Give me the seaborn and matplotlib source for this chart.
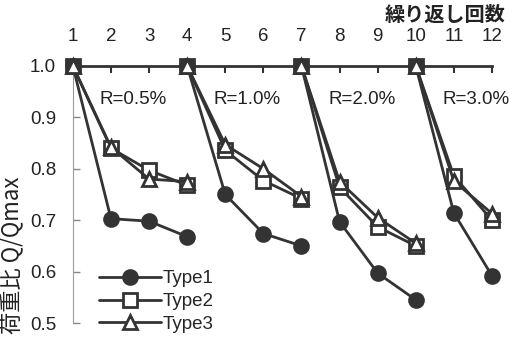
import matplotlib
matplotlib.use("Agg")
import matplotlib.pyplot as plt
from matplotlib.lines import Line2D
import seaborn as sns
import pandas as pd

# Cycle numbers for each drift-amplitude group (groups share their boundary cycle)
group_labels = ["R=0.5%", "R=1.0%", "R=2.0%", "R=3.0%"]
group_cycles = [[1, 2, 3, 4], [4, 5, 6, 7], [7, 8, 9, 10], [10, 11, 12]]

# Q/Qmax per group for each specimen type
type1_vals = [[1.0, 0.703, 0.698, 0.668],
              [1.0, 0.750, 0.674, 0.650],
              [1.0, 0.697, 0.597, 0.545],
              [1.0, 0.714, 0.592]]
type2_vals = [[1.0, 0.840, 0.797, 0.768],
              [1.0, 0.836, 0.777, 0.742],
              [1.0, 0.764, 0.687, 0.650],
              [1.0, 0.786, 0.700]]
type3_vals = [[1.0, 0.842, 0.780, 0.775],
              [1.0, 0.847, 0.800, 0.746],
              [1.0, 0.775, 0.705, 0.655],
              [1.0, 0.776, 0.713]]

series_names = ["Type1", "Type2", "Type3"]
cycle_ticks = list(range(1, 13))
y_ticks = [0.5, 0.6, 0.7, 0.8, 0.9, 1.0]

rows = []
for name, vals in zip(series_names, [type1_vals, type2_vals, type3_vals]):
    for g, (cyc, v) in enumerate(zip(group_cycles, vals)):
        for c, q in zip(cyc, v):
            rows.append({"type": name, "group": g, "cycle": c, "ratio": q})
df = pd.DataFrame(rows)

sns.set_theme(style="white")
plt.rcParams["font.family"] = ["Liberation Sans", "Noto Sans CJK JP", "DejaVu Sans"]

ink = "#333333"
styles = {
    "Type1": dict(marker="o", markerfacecolor=ink, markersize=10, zorder=4),
    "Type2": dict(marker="s", markerfacecolor="white", markersize=9.5, zorder=3),
    "Type3": dict(marker="^", markerfacecolor="white", markersize=10.5, zorder=5),
}

fig = plt.figure(figsize=(5.13, 3.40), dpi=100)
ax = fig.add_axes([0.142, 0.05, 0.817, 0.756])

for name in ["Type2", "Type1", "Type3"]:
    st = styles[name]
    sns.lineplot(data=df[df["type"] == name], x="cycle", y="ratio",
                 units="group", estimator=None, sort=False, ax=ax,
                 color=ink, lw=2.0, marker=st["marker"], markersize=st["markersize"],
                 markerfacecolor=st["markerfacecolor"], markeredgecolor=ink,
                 markeredgewidth=2.0, clip_on=False, zorder=st["zorder"],
                 legend=False)

ax.set_xlim(1, 12)
ax.set_ylim(0.5, 1.0)
ax.set_xticks(cycle_ticks)
ax.set_xticklabels([str(c) for c in cycle_ticks])
ax.set_yticks(y_ticks)
ax.set_yticklabels([f"{v:.1f}" for v in y_ticks])
ax.xaxis.tick_top()
ax.tick_params(axis="x", direction="in", length=5, width=1.5, color=ink,
               pad=15, labelsize=13.5, labelcolor="#222222")
ax.tick_params(axis="y", direction="in", length=5, width=1, color="#888888",
               pad=12, labelsize=13.5, labelcolor="#222222", left=True)
ax.set_xlabel("")
ax.set_ylabel("")

for side in ["right", "bottom"]:
    ax.spines[side].set_visible(False)
ax.spines["top"].set_color(ink)
ax.spines["top"].set_linewidth(2)
ax.spines["left"].set_color("#9a9a9a")
ax.spines["left"].set_linewidth(0.8)

# Amplitude labels above each group
for lab, cyc in zip(group_labels, group_cycles):
    ax.text(cyc[0] + 0.7, 0.935, lab, fontsize=13.5, color="#222222",
            ha="left", va="center")

fig.text(0.985, 0.958, "繰り返し回数", fontsize=14.5, fontweight="bold",
         ha="right", va="center", color="#222222",
         family=["Noto Sans CJK JP", "DejaVu Sans"])
fig.text(0.024, 0.25, "荷重比 Q/Qmax", fontsize=16, rotation=90,
         ha="center", va="center", color="#222222",
         family=["Noto Sans CJK JP", "DejaVu Sans"])

handles = []
for name in series_names:
    st = styles[name]
    handles.append(Line2D([], [], color=ink, lw=2.0, marker=st["marker"],
                          markersize=st["markersize"],
                          markerfacecolor=st["markerfacecolor"],
                          markeredgecolor=ink, markeredgewidth=2.0))
fig.legend(handles, series_names, loc="lower left",
           bbox_to_anchor=(0.168, -0.018), frameon=False, fontsize=13.5,
           handlelength=3.3, handletextpad=0.1, labelspacing=0.3,
           borderpad=0.2)

fig.savefig("out.png", dpi=100)
